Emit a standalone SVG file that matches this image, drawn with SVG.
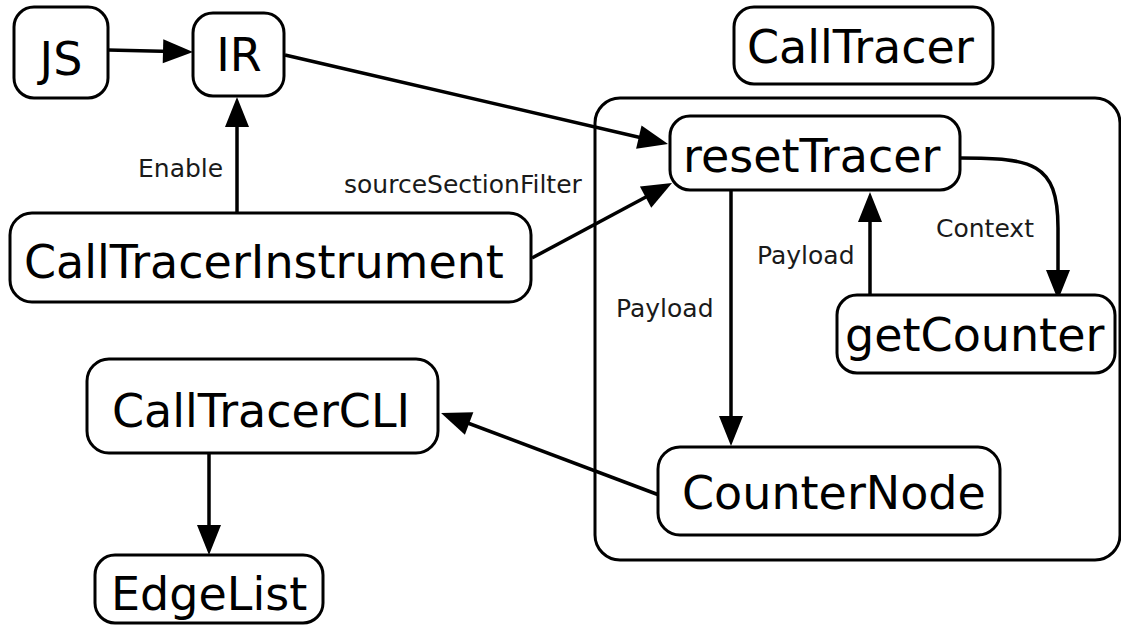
<svg xmlns="http://www.w3.org/2000/svg" width="1121" height="626" viewBox="0 0 1121 626">
  <defs>
    <style>
      .box { fill: #ffffff; stroke: #000000; stroke-width: 3; }
      .frame { fill: none; stroke: #000000; stroke-width: 3; }
      .node-label { font-family: "DejaVu Sans", "Noto Sans", sans-serif; font-size: 46px; fill: #000000; }
      .edge { fill: none; stroke: #000000; stroke-width: 3.5; marker-end: url(#arrow); }
      .edge-label { font-family: "DejaVu Sans", "Noto Sans", sans-serif; font-size: 25px; fill: #1a1a1a; }
    </style>
    <!-- tip sits 10px beyond the end of each line -->
    <marker id="arrow" markerUnits="userSpaceOnUse" markerWidth="40" markerHeight="30" viewBox="-22 -15 34 30" refX="0" refY="0" orient="auto" overflow="visible">
      <path d="M -20 -12 L 10 0 L -20 12 z" fill="#000000"/>
    </marker>
  </defs>

  <rect width="1121" height="626" fill="#ffffff"/>

  <!-- CallTracer package frame -->
  <g id="calltracer-frame">
    <rect class="frame" x="595" y="98" width="525" height="462" rx="25"/>
  </g>

  <!-- connectors -->
  <g id="connectors">
    <line class="edge" x1="108" y1="50" x2="183" y2="51.8"/>
    <line class="edge" x1="285" y1="55" x2="658.3" y2="141.7"/>
    <line class="edge" x1="532" y1="258" x2="663.2" y2="187.7"/>
    <line class="edge" x1="237" y1="213" x2="237" y2="107"/>
    <line class="edge" x1="731" y1="190" x2="731" y2="436"/>
    <line class="edge" x1="870" y1="295" x2="870" y2="202"/>
    <path class="edge" d="M 960 158 C 1032 158 1058 162 1058 228 L 1058 290"/>
    <line class="edge" x1="659" y1="495" x2="450.4" y2="416.5"/>
    <line class="edge" x1="209" y1="453" x2="209" y2="545"/>
  </g>

  <!-- connector labels -->
  <g id="edge-labels">
    <text class="edge-label" x="138" y="177">Enable</text>
    <text class="edge-label" x="344" y="193">sourceSectionFilter</text>
    <text class="edge-label" x="757" y="264">Payload</text>
    <text class="edge-label" x="616" y="317">Payload</text>
    <text class="edge-label" x="936" y="237">Context</text>
  </g>

  <g id="js">
    <rect class="box" x="14" y="7" width="94" height="91" rx="20"/>
    <text class="node-label" x="61" y="75" text-anchor="middle">JS</text>
  </g>

  <g id="ir">
    <rect class="box" x="193" y="13" width="91" height="83" rx="20"/>
    <text class="node-label" x="239" y="71" text-anchor="middle">IR</text>
  </g>

  <g id="calltracer">
    <rect class="box" x="734" y="7" width="259" height="77" rx="20"/>
    <text class="node-label" x="747" y="63">CallTracer</text>
  </g>

  <g id="calltracer-instrument">
    <rect class="box" x="10" y="213" width="521" height="89" rx="22"/>
    <text class="node-label" x="24" y="278">CallTracerInstrument</text>
  </g>

  <g id="reset-tracer">
    <rect class="box" x="670" y="116" width="290" height="74" rx="20"/>
    <text class="node-label" x="683" y="172">resetTracer</text>
  </g>

  <g id="get-counter">
    <rect class="box" x="837" y="295" width="278" height="78" rx="20"/>
    <text class="node-label" x="845" y="351">getCounter</text>
  </g>

  <g id="counter-node">
    <rect class="box" x="658" y="447" width="342" height="88" rx="22"/>
    <text class="node-label" x="682" y="509">CounterNode</text>
  </g>

  <g id="calltracer-cli">
    <rect class="box" x="87" y="359" width="351" height="94" rx="22"/>
    <text class="node-label" x="112" y="427">CallTracerCLI</text>
  </g>

  <g id="edge-list">
    <rect class="box" x="95" y="555" width="228" height="68" rx="20"/>
    <text class="node-label" x="111" y="610">EdgeList</text>
  </g>
</svg>
